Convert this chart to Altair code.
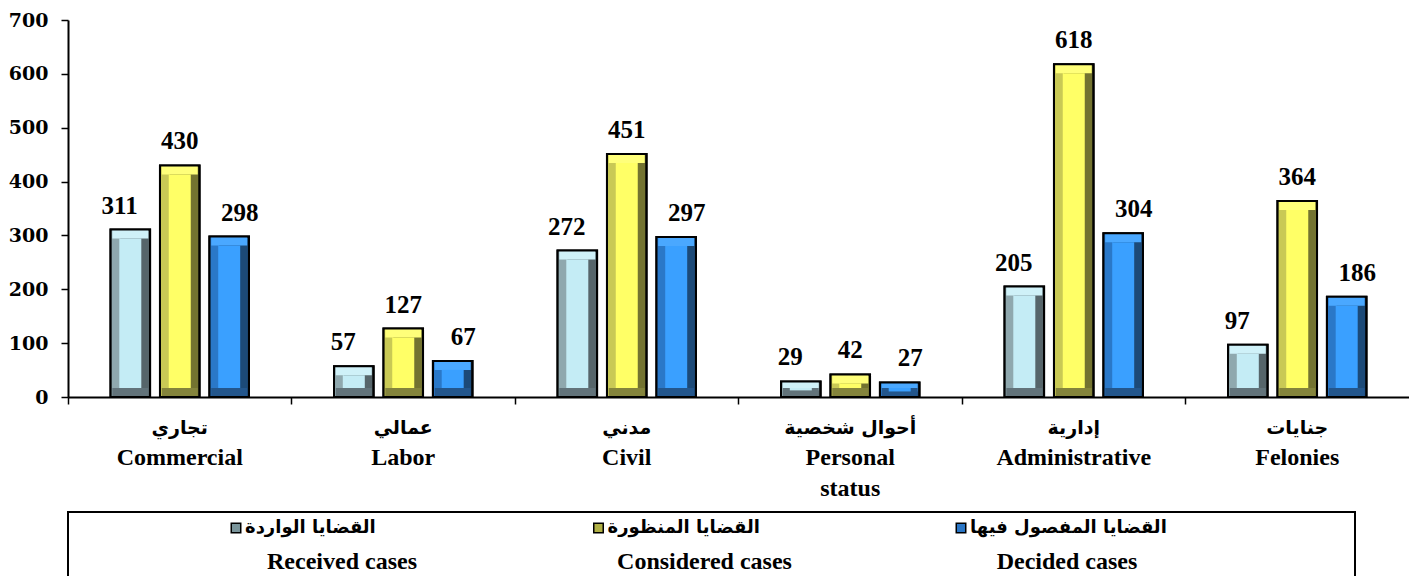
import altair as alt
import pandas as pd

# ---------------- data ----------------
cat_keys = ["Commercial", "Labor", "Civil", "Personal status", "Administrative", "Felonies"]
cat_ar = ["تجاري", "عمالي", "مدني", "أحوال شخصية", "إدارية", "جنايات"]
cat_en = ["Commercial", "Labor", "Civil", "Personal\nstatus", "Administrative", "Felonies"]

series_en = ["Received cases", "Considered cases", "Decided cases"]
series_ar = ["القضايا الواردة", "القضايا المنظورة", "القضايا المفصول فيها"]

received = [311, 57, 272, 29, 205, 97]
considered = [430, 127, 451, 42, 618, 364]
decided = [298, 67, 297, 27, 304, 186]

y_ticks = [0, 100, 200, 300, 400, 500, 600, 700]

# ---------------- styles ----------------
face_c = ["#C4ECF5", "#FFFF66", "#3AA0FF"]
left_c = ["#8FA8AE", "#C9C955", "#2A78C8"]
right_c = ["#56656A", "#737330", "#1C4A78"]
top_c = ["#CFF1F8", "#FFFF7A", "#4AA8FF"]
bottom_c = ["#62737A", "#84843C", "#23568C"]
icon_c = ["#7A959B", "#B0B045", "#2A76C6"]

W, H = 1341, 377
BEV = 9
SERIF = "Liberation Serif"
ARABIC = "DejaVu Sans"

rows = []
for vals, s in zip([received, considered, decided], series_en):
    for c, v in zip(cat_keys, vals):
        rows.append({"cat": c, "series": s, "value": v})
df = pd.DataFrame(rows)

df_cat = pd.DataFrame({"cat": cat_keys, "ar": cat_ar, "en": cat_en})
df_leg = pd.DataFrame({"series": series_en, "ar": series_ar})

x_enc = alt.X(
    "cat:N",
    sort=cat_keys,
    scale=alt.Scale(paddingInner=0, paddingOuter=0),
    axis=alt.Axis(
        labels=False, title=None, bandPosition=0, tickSize=7,
        tickColor="black", tickWidth=1.5, domainColor="black", domainWidth=2,
    ),
)
xo_enc = alt.XOffset(
    "series:N", sort=series_en,
    scale=alt.Scale(paddingInner=0.2, paddingOuter=0.86),
)
# same bands shifted 14.5px to the left (for the left bevel strip)
xo_left = alt.XOffset(
    "series_l:N", sort=series_en,
    scale=alt.Scale(paddingInner=0.2, paddingOuter=0.86, align=0.33),
)
y_scale = alt.Scale(domain=[0, 700], nice=False)
y_enc = alt.Y(
    "value:Q", stack=None, scale=y_scale,
    axis=alt.Axis(
        values=y_ticks, grid=False, title=None, tickSize=7, tickColor="black",
        tickWidth=1.5, domainColor="black", domainWidth=2,
        labelFont="DejaVu Serif", labelFontWeight="bold", labelFontSize=19,
        labelColor="black", labelPadding=13,
    ),
)
y_plain = alt.Y("value:Q", stack=None, scale=y_scale)


def col(rng):
    return alt.Color("series:N", scale=alt.Scale(domain=series_en, range=rng), legend=None)


base = alt.Chart(df).encode(x=x_enc, xOffset=xo_enc)

# full bar = right bevel colour
l_base = base.mark_bar(stroke="black", strokeWidth=2).encode(y=y_enc, color=col(right_c))
# left bevel strip
l_left = alt.Chart(df).transform_calculate(series_l="datum.series").mark_bar(width=BEV).encode(
    x=x_enc, xOffset=xo_left, y=y_plain, color=col(left_c)
)
# top bevel
l_top = base.mark_bar(width=36, y2Offset=BEV).encode(
    y=y_plain, y2=alt.Y2("value:Q"), color=col(top_c)
)
# bottom bevel
l_bot = base.mark_bar(width=36, yOffset=-BEV).transform_calculate(zero="0").encode(
    y=alt.Y("zero:Q", stack=None, scale=y_scale), y2=alt.Y2("zero:Q"), color=col(bottom_c)
)
# face
l_face = base.mark_bar(width=22, yOffset=BEV, y2Offset=-BEV).transform_calculate(zero="0").encode(
    y=y_plain, y2=alt.Y2("zero:Q"), color=col(face_c)
)
# outline again
l_outline = base.mark_bar(fillOpacity=0, stroke="black", strokeWidth=2).encode(y=y_plain)
# value labels
l_text = base.mark_text(
    font=SERIF, fontWeight="bold", fontSize=25, baseline="alphabetic", dy=-16, color="black"
).encode(y=y_plain, text="value:Q")

# category labels
l_cat_ar = alt.Chart(df_cat).mark_text(
    font=ARABIC, fontWeight="bold", fontSize=19, baseline="middle", color="black"
).encode(x=alt.X("cat:N", sort=cat_keys), y=alt.value(H + 31), text="ar:N")
l_cat_en = alt.Chart(df_cat).mark_text(
    font=SERIF, fontWeight="bold", fontSize=24, baseline="alphabetic", color="black",
    lineBreak="\n", lineHeight=31,
).encode(x=alt.X("cat:N", sort=cat_keys), y=alt.value(H + 68), text="en:N")

main = alt.layer(
    l_base, l_left, l_top, l_bot, l_face, l_outline, l_text, l_cat_ar, l_cat_en
).resolve_scale(color="independent", xOffset="independent").properties(width=W, height=H)

# ---------------- legend ----------------
LW, LH = 1287, 72
lx = alt.X("series:N", sort=series_en, scale=alt.Scale(type="point", range=[274, 999], padding=0), axis=None)
leg_box = alt.Chart(df_leg).mark_rect(fillOpacity=0, stroke="black", strokeWidth=2).encode(
    x=alt.value(0), x2=alt.value(LW), y=alt.value(0), y2=alt.value(LH)
)
leg_icon = alt.Chart(df_leg).mark_square(size=90, stroke="black", strokeWidth=1.5, opacity=1, xOffset=-106).encode(
    x=lx, y=alt.value(16),
    color=alt.Color("series:N", scale=alt.Scale(domain=series_en, range=icon_c), legend=None),
)
leg_ar = alt.Chart(df_leg).mark_text(
    font=ARABIC, fontWeight="bold", fontSize=18, align="left", baseline="middle",
    dx=-97, color="black",
).encode(x=lx, y=alt.value(16), text="ar:N")
leg_en = alt.Chart(df_leg).mark_text(
    font=SERIF, fontWeight="bold", fontSize=24, baseline="middle", color="black"
).encode(x=lx, y=alt.value(50), text="series:N")

legend = alt.layer(leg_box, leg_icon, leg_ar, leg_en).properties(width=LW, height=LH)

chart = alt.vconcat(main, legend, spacing=115, bounds="flush").properties(
    padding={"left": 0, "top": 3, "right": 0, "bottom": 0}
).configure_view(stroke=None)

chart.save("out.html", embed_options={"renderer": "svg", "actions": False})
